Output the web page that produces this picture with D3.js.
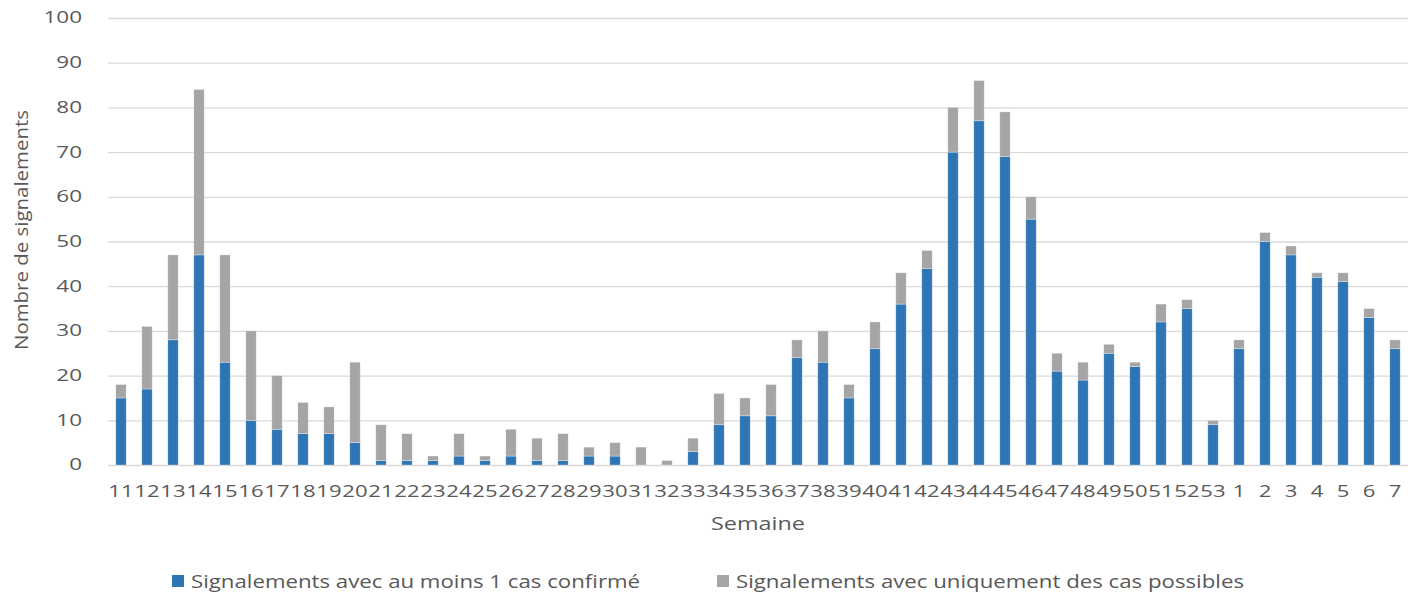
<!DOCTYPE html>
<html>
<head>
<meta charset="utf-8">
<script src="https://cdn.jsdelivr.net/npm/d3@7"></script>
<style>
  body { margin: 0; background: #fff; }
  text { font-family: "Open Sans", sans-serif; fill: #595959; }
</style>
</head>
<body>
<svg id="figure"></svg>
<script>
var weeks = ["11","12","13","14","15","16","17","18","19","20","21","22","23","24","25","26","27","28","29","30",
             "31","32","33","34","35","36","37","38","39","40","41","42","43","44","45","46","47","48","49","50",
             "51","52","53","1","2","3","4","5","6","7"];

// signalements avec au moins 1 cas confirmé
var confirmed = [15,17,28,47,23,10,8,7,7,5,1,1,1,2,1,2,1,1,2,2,
                 0,0,3,9,11,11,24,23,15,26,36,44,70,77,69,55,21,19,25,22,
                 32,35,9,26,50,47,42,41,33,26];

// signalements avec uniquement des cas possibles
var possibleOnly = [3,14,19,37,24,20,12,7,6,18,8,6,1,5,1,6,5,6,2,3,
                    4,1,3,7,4,7,4,7,3,6,7,4,10,9,10,5,4,4,2,1,
                    4,2,1,2,2,2,1,2,2,2];

var yTicks = [0,10,20,30,40,50,60,70,80,90,100];

var seriesNames = ["Signalements avec au moins 1 cas confirmé", "Signalements avec uniquement des cas possibles"];
var seriesColors = ["#2e75b6", "#a5a5a5"];

var fullWidth = 1415;
var fullHeight = 592;
var margin = { top: 18, bottom: 127, left: 108, right: 7 };
var width = fullWidth - margin.left - margin.right;
var height = fullHeight - margin.top - margin.bottom;

var rows = weeks.map(function (w, i) {
    return { week: w, confirmed: confirmed[i], possible: possibleOnly[i] };
});

var svg = d3.select("#figure")
    .attr("width", fullWidth)
    .attr("height", fullHeight);

var g = svg.append("g")
    .attr("transform", "translate(" + margin.left + "," + margin.top + ")");

var xRange = d3.scaleBand().domain(weeks).range([0, width]).paddingInner(0.6).paddingOuter(0.3);
var yRange = d3.scaleLinear().domain([0, 100]).range([height, 0]);

// gridlines
var grid = d3.axisLeft(yRange).tickValues(yTicks).tickSize(-width).tickFormat("");
g.append("g").attr("class", "grid").call(grid)
    .call(function (s) { s.select(".domain").remove(); })
    .selectAll("line").attr("stroke", "#d9d9d9").attr("stroke-width", 1.3);

// stacked bars
var stack = d3.stack().keys(["confirmed", "possible"]);
var layers = stack(rows);

g.selectAll(".layer")
    .data(layers)
    .enter().append("g")
    .attr("class", "layer")
    .attr("fill", function (d, i) { return seriesColors[i]; })
    .selectAll("rect")
    .data(function (d) { return d; })
    .enter().append("rect")
    .attr("x", function (d) { return xRange(d.data.week); })
    .attr("width", xRange.bandwidth())
    .attr("y", function (d) { return yRange(d[1]); })
    .attr("height", function (d) { return yRange(d[0]) - yRange(d[1]); })
    .attr("stroke", "#ffffff")
    .attr("stroke-opacity", 0.5)
    .attr("stroke-width", 0.6);

// y axis labels
var yAxis = d3.axisLeft(yRange).tickValues(yTicks).tickSize(0).tickPadding(0);
var yg = g.append("g").call(yAxis);
yg.select(".domain").remove();
yg.selectAll("text")
    .attr("x", 0)
    .attr("font-size", 15.5)
    .attr("transform", "translate(-26,0) scale(1.45,1)");

// x axis labels
var xAxis = d3.axisBottom(xRange).tickSize(0).tickPadding(0);
var xg = g.append("g").attr("transform", "translate(0," + height + ")").call(xAxis);
xg.select(".domain").remove();
xg.selectAll("text")
    .attr("y", 0)
    .attr("dy", 0)
    .attr("font-size", 17)
    .attr("transform", "translate(0,32) scale(1.3,1)");

// axis titles
svg.append("text")
    .text("Semaine")
    .attr("text-anchor", "middle")
    .attr("font-size", 18)
    .attr("transform", "translate(" + (margin.left + width / 2) + ",530) scale(1.3,1)");

svg.append("text")
    .text("Nombre de signalements")
    .attr("text-anchor", "middle")
    .attr("font-size", 19)
    .attr("textLength", 240)
    .attr("lengthAdjust", "spacingAndGlyphs")
    .attr("transform", "translate(28,230) rotate(-90)");

// legend
var legendX = [172, 717];
var legendLen = [449, 508];
var legend = svg.selectAll(".legend")
    .data(seriesNames)
    .enter().append("g")
    .attr("class", "legend")
    .attr("transform", function (d, i) { return "translate(" + legendX[i] + ",575)"; });

legend.append("rect")
    .attr("width", 12)
    .attr("height", 12)
    .attr("fill", function (d, i) { return seriesColors[i]; });

legend.append("text")
    .text(function (d) { return d; })
    .attr("x", 19)
    .attr("y", 13)
    .attr("font-size", 18)
    .attr("textLength", function (d, i) { return legendLen[i]; })
    .attr("lengthAdjust", "spacingAndGlyphs");
</script>
</body>
</html>
